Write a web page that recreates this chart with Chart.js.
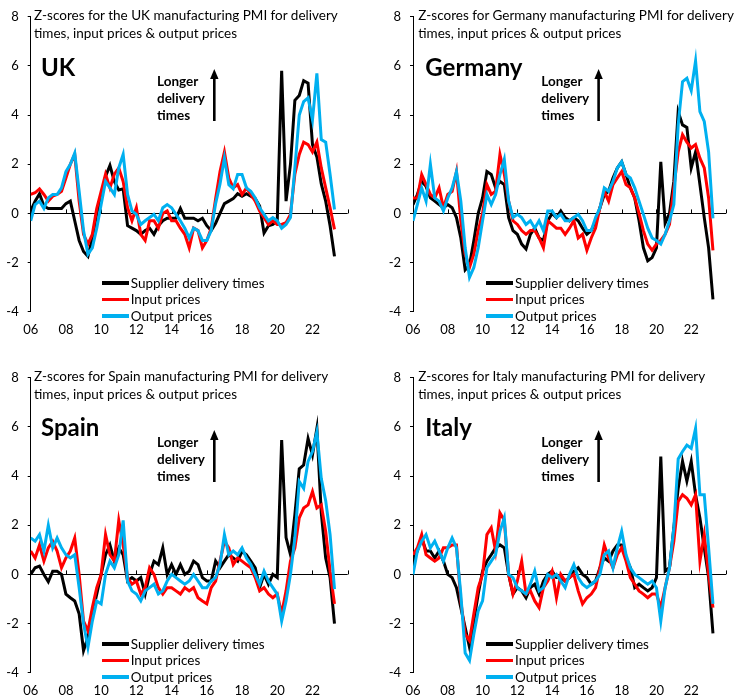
<!DOCTYPE html>
<html><head><meta charset="utf-8">
<script src="https://cdn.jsdelivr.net/npm/chart.js@4.4.0/dist/chart.umd.min.js"></script>
<style>
html,body{margin:0;padding:0;background:#fff;overflow:hidden}
#wrap{position:relative;width:736px;height:700px;overflow:hidden;font-family:Lato,'Open Sans',sans-serif;color:#000}
.panel{position:absolute;width:368px}
.panel canvas{position:absolute;left:0;top:0}
.title{position:absolute;font-size:13.5px;line-height:17.5px;white-space:nowrap}
.country{position:absolute;font-size:24px;font-weight:bold;line-height:28px;white-space:nowrap}
.note{position:absolute;font-size:13.5px;font-weight:bold;line-height:16.7px;white-space:nowrap}
.arrow{position:absolute;overflow:visible}
.legend{position:absolute;font-size:13.5px}
.legend .row{display:flex;align-items:center;height:16.5px;white-space:nowrap}
.legend .sw{width:27px;height:3.5px;margin-right:2px}
</style></head><body><div id="wrap"></div>
<script>
// Quarterly readings, Q1 2006 .. Q2 2023
const startYear = 2006;
const tickLabels = ['06','08','10','12','14','16','18','20','22'];
const seriesNames = ['Supplier delivery times','Input prices','Output prices'];
const seriesColors = ['#000000','#FF0000','#00B0F0'];

const ukSupplier = [0.1,0.5,0.8,0.3, 0.2,0.2,0.2,0.2, 0.4,0.5,-0.3,-1.1, -1.55,-1.75,-1.0,0.0, 0.6,1.5,1.95,1.3, 0.95,1.0,-0.5,-0.6, -0.7,-0.85,-0.7,-0.6, -0.85,-0.5,-0.3,-0.2, -0.2,-0.2,0.2,-0.2, -0.2,-0.2,-0.3,-0.2, -0.5,-0.7,-0.4,0.0, 0.4,0.5,0.6,0.8, 0.7,0.8,0.7,0.6, 0.3,-0.8,-0.5,-0.45, -0.3,5.8,0.5,2.0, 4.6,4.8,5.4,5.3, 2.8,2.3,1.2,0.5, -0.5,-1.75];
const ukInput = [0.77,0.84,1.0,0.77, 0.5,0.7,0.77,0.9, 1.44,2.0,2.4,0.5, -0.85,-1.25,-0.85,0.2, 0.9,1.6,1.04,1.6, 1.85,1.3,0.23,-0.3, 0.23,-0.85,-1.1,-0.3, -0.3,-0.6,0.0,0.1, -0.3,-0.3,-0.6,-0.85, -1.4,-0.6,-0.7,-1.4, -1.1,-0.6,0.6,1.7, 2.5,1.44,1.04,1.17, 0.77,1.04,0.77,0.5, 0.1,-0.17,-0.45,-0.3, -0.45,-0.45,-0.38,-0.04, 1.6,2.4,2.9,2.8, 2.5,2.9,1.85,1.04, 0.23,-0.65];
const ukOutput = [-0.3,0.36,0.5,0.2, 0.63,0.77,0.77,1.04, 1.7,2.0,2.45,0.9, -0.7,-1.66,-1.4,-0.6, 0.36,1.3,1.04,0.77, 1.85,2.4,0.77,0.1, -0.04,-0.45,-0.3,-0.17, -0.04,-0.3,0.23,0.36, 0.23,-0.04,-0.3,-0.6, -1.0,-0.6,-0.7,-1.1, -1.1,-0.7,0.4,1.2, 2.25,1.17,1.0,1.58, 1.58,1.04,0.9,0.63, 0.23,-0.04,-0.3,-0.17, -0.3,-0.6,-0.45,-0.17, 1.85,4.0,4.55,4.7, 3.8,5.7,3.0,2.9, 1.58,0.16];

const deSupplier = [0.36,0.77,1.3,1.1, 0.63,0.5,0.36,0.23, 0.36,0.23,-0.17,-1.0, -2.3,-2.1,-1.1,0.0, 0.63,1.7,1.58,1.04, 1.3,1.17,-0.17,-0.7, -0.85,-1.25,-1.45,-0.85, -0.6,-1.0,-1.1,-0.3, 0.0,-0.17,0.1,-0.17, -0.3,-0.17,-0.3,-0.6, -0.85,-0.7,-0.3,0.23, 0.77,0.9,1.44,1.85, 2.1,1.58,1.04,0.63, -0.3,-1.4,-1.93,-1.8, -1.4,2.1,-0.4,0.0, 1.3,4.14,3.6,3.5, 1.85,2.5,1.17,-0.17, -1.4,-3.5];
const deInput = [0.63,0.63,1.58,1.17, 0.77,0.63,1.04,0.23, 0.77,0.9,1.7,-0.3, -1.66,-2.2,-1.66,-0.7, 0.0,1.17,0.77,0.9, 2.4,1.6,0.5,-0.3, -0.45,-0.7,-0.85,-0.7, -0.7,-1.0,-1.4,-0.3, -0.45,-0.6,-0.6,-0.85, -0.6,-0.3,-1.0,-0.85, -1.5,-1.0,-0.6,0.23, 0.9,0.5,1.17,1.44, 1.7,1.17,1.04,0.63, 0.0,-0.7,-1.25,-1.5, -1.25,-1.1,-0.85,-0.45, 1.04,2.5,3.2,2.9, 2.66,2.8,2.25,1.85, 0.63,-1.5];
const deOutput = [-0.3,0.36,1.04,0.5, 2.0,0.63,0.5,0.1, 0.63,1.04,1.7,0.5, -1.4,-2.6,-2.2,-1.4, -0.3,0.77,0.36,0.77, 1.58,2.2,0.5,-0.17, -0.04,-0.17,-0.45,-0.3, -0.6,-0.3,-0.7,0.1, 0.1,-0.17,-0.04,-0.3, -0.3,-0.17,-0.04,-0.3, -0.7,-0.7,-0.17,0.23, 1.04,0.9,1.3,1.85, 2.1,1.58,1.44,1.04, 0.5,-0.04,-0.6,-1.0, -1.1,-1.25,-0.85,-0.3, 0.36,3.6,5.36,5.5, 5.0,6.2,4.14,3.74, 2.5,-0.2];

const esSupplier = [0.0,0.27,0.34,0.0, -0.3,0.13,0.13,0.0, -0.8,-0.95,-1.08,-1.6, -3.1,-2.56,-1.6,-0.8, 0.0,0.8,1.2,0.54, 1.08,0.8,-0.27,-0.13, -0.27,-0.13,-0.8,0.0, 0.54,0.4,1.08,0.0, 0.4,0.0,0.4,0.0, 0.13,0.54,0.4,-0.13, -0.27,-0.27,0.54,0.27, 0.54,0.8,0.67,0.54, 0.94,0.8,0.54,0.27, -0.54,0.0,-0.4,0.0, -0.13,5.47,1.5,0.8, 2.43,4.3,4.45,5.53, 4.86,5.94,2.5,0.67, -0.13,-2.0];
const esInput = [0.95,0.67,1.2,0.54, 1.08,1.35,0.95,0.27, 0.67,0.95,1.48,0.0, -1.9,-2.3,-1.35,-0.54, 0.0,1.62,0.8,0.54, 2.2,1.2,-0.13,-0.4, -0.27,-0.8,-0.54,0.27, 0.0,-0.54,-0.8,-0.54, -0.54,-0.67,-0.8,-0.54, -0.67,-0.54,-0.95,-1.08, -1.2,-0.54,-0.27,0.54, 1.35,1.08,0.4,0.67, 0.54,0.4,0.27,-0.13, -0.67,-0.54,-0.8,-0.95, -0.8,-1.6,-0.67,0.54, 1.08,2.3,2.7,2.83, 3.37,2.7,2.83,1.75, 0.13,-1.2];
const esOutput = [1.48,1.35,1.62,0.95, 2.0,1.08,1.48,1.08, 0.8,0.67,0.8,-0.54, -2.0,-2.97,-1.9,-1.08, -1.2,0.0,0.54,0.27, 0.8,2.2,-0.27,-0.67, -0.8,-1.08,-0.67,-0.54, -0.4,-0.8,-0.67,-0.27, 0.0,-0.13,-0.27,-0.4, -0.27,0.0,-0.27,-0.54, -0.54,-0.27,-0.13,0.4, 1.62,0.8,0.95,0.8, 1.08,0.67,0.4,0.0, -0.4,0.13,-0.27,-0.54, -0.8,-1.9,-1.08,0.0, 1.48,3.78,3.5,4.6, 5.0,5.8,3.9,3.0, 1.62,-0.6];

const itSupplier = [0.54,0.95,1.48,0.95, 0.95,0.67,0.95,0.54, 0.0,-0.13,-0.54,-1.35, -2.16,-2.97,-1.9,-0.8, 0.13,0.54,0.8,1.08, 1.2,1.08,0.0,-0.8, -0.54,-0.67,-0.95,-0.54, -0.4,-0.8,-0.27,0.0, 0.13,-0.13,-0.13,-0.27, -0.13,0.13,0.27,0.0, -0.13,-0.4,-0.27,0.27, 0.67,0.54,0.95,1.2, 1.2,0.67,0.27,-0.54, -0.4,-0.54,-0.67,-0.54, -0.13,4.8,0.13,0.27, 1.9,3.5,4.6,3.8, 4.6,3.24,2.3,1.08, -0.13,-2.4];
const itInput = [0.8,1.08,1.62,0.8, 0.67,0.54,0.67,1.08, 1.08,1.2,1.2,-1.08, -2.43,-2.7,-1.6,-0.54, 0.0,1.62,1.9,0.95, 2.5,2.2,0.0,-0.8, -0.27,0.54,-0.8,-0.67, -1.08,-1.35,-0.54,-0.27, 0.13,-0.95,0.0,-0.27, -0.13,0.0,-0.67,-1.2, -0.95,-0.8,-0.54,0.27, 1.2,0.67,0.27,0.8, 1.08,0.54,-0.13,-0.4, -0.67,-0.8,-0.95,-0.8, -0.8,-1.35,-0.54,0.27, 1.35,2.97,3.24,3.1, 2.83,3.24,0.54,1.62, 0.0,-1.35];
const itOutput = [0.0,0.95,1.35,1.62, 1.08,1.35,0.95,0.54, 1.08,1.48,1.08,-0.8, -3.2,-3.5,-2.43,-1.48, -1.08,0.27,0.54,0.8, 1.75,2.3,0.0,-0.13, -0.54,-0.67,-0.8,-0.4, 0.13,-0.67,-0.54,0.0, -0.13,0.0,-0.27,-0.54, 0.0,0.4,-0.13,-0.4, -0.54,-0.4,-0.27,0.0, 0.8,0.95,0.27,1.08, 1.75,0.8,0.27,0.0, -0.13,-0.27,-0.4,-0.27, -0.54,-1.9,-0.54,0.27, 1.9,4.7,5.0,5.26, 5.13,5.94,3.24,3.24, 1.08,-1.2];

const quarters = ukSupplier.map((_, i) => startYear + i / 4);

const panels = [
  {name:'UK', inTitle:'the UK', series:[ukSupplier, ukInput, ukOutput], left:0, top:0, h:345, plotL:30.7, plotR:347.7, dx:0},
  {name:'Germany', inTitle:'Germany', series:[deSupplier, deInput, deOutput], left:368, top:0, h:345, plotL:45, plotR:364.5, dx:16.3},
  {name:'Spain', inTitle:'Spain', series:[esSupplier, esInput, esOutput], left:0, top:361, h:339, plotL:30.7, plotR:347.7, dx:0},
  {name:'Italy', inTitle:'Italy', series:[itSupplier, itInput, itOutput], left:368, top:361, h:339, plotL:45, plotR:364.5, dx:16.3}
];

const FONT = {family:"Lato, 'Open Sans', sans-serif", size:13};
const PLOT_TOP = 15, PLOT_BOTTOM = 311.7;

const zeroTicks = {
  id:'zeroTicks',
  beforeDatasetsDraw(chart){
    const {ctx} = chart; const x = chart.scales.x, y = chart.scales.y;
    const y0 = y.getPixelForValue(0);
    ctx.save(); ctx.strokeStyle = '#000'; ctx.lineWidth = 1;
    x.ticks.forEach(t => {
      const px = Math.round(x.getPixelForValue(t.value)) + 0.5;
      ctx.beginPath(); ctx.moveTo(px, y0); ctx.lineTo(px, y0 - 4); ctx.stroke();
    });
    ctx.restore();
  }
};

const wrap = document.getElementById('wrap');
panels.forEach(p => {
  const div = document.createElement('div');
  div.className = 'panel';
  div.style.left = p.left + 'px'; div.style.top = p.top + 'px'; div.style.height = p.h + 'px';
  wrap.appendChild(div);
  const cv = document.createElement('canvas');
  cv.width = 368; cv.height = p.h; cv.style.width = '368px'; cv.style.height = p.h + 'px';
  div.appendChild(cv);

  const datasets = p.series.map((vals, k) => ({
    label: seriesNames[k],
    data: vals.map((v, i) => ({x: quarters[i], y: v})),
    borderColor: seriesColors[k],
    backgroundColor: seriesColors[k],
    borderWidth: 3,
    pointRadius: 0,
    tension: 0,
    order: 3 - k
  }));

  const chart = new Chart(cv, {
    type:'line',
    data:{datasets},
    plugins:[zeroTicks],
    options:{
      responsive:false, animation:false, devicePixelRatio:1,
      layout:{padding:{left:0, right:368 - p.plotR, top:PLOT_TOP, bottom:0}},
      plugins:{legend:{display:false}, tooltip:{enabled:false}},
      scales:{
        x:{type:'linear', min:2006, max:2024,
          ticks:{stepSize:2, autoSkip:false, maxRotation:0, minRotation:0, font:FONT, color:'#000', padding:10,
            callback:(v) => { const idx = (v - 2006) / 2; return tickLabels[idx] !== undefined ? tickLabels[idx] : ''; }},
          grid:{display:false, drawTicks:false}, border:{display:false},
          afterFit:(s) => { s.height = p.h - PLOT_BOTTOM; }
        },
        y:{min:-4, max:8,
          ticks:{stepSize:2, font:FONT, color:'#000', padding:9},
          grid:{color:(c) => (c.tick && c.tick.value === 0) ? '#000' : 'rgba(0,0,0,0)', lineWidth:1, tickColor:'#000', tickLength:3, drawTicks:true},
          border:{display:true, color:'#000', width:1},
          afterFit:(s) => { s.width = p.plotL; }
        }
      }
    }
  });

  const dx = p.dx;
  const title = document.createElement('div');
  title.className = 'title';
  title.style.left = (34 + dx) + 'px'; title.style.top = '7px';
  title.innerHTML = 'Z-scores for ' + p.inTitle + ' manufacturing PMI for delivery<br>times, input prices &amp; output prices';
  div.appendChild(title);

  const country = document.createElement('div');
  country.className = 'country';
  country.style.left = (41 + dx) + 'px'; country.style.top = (p.top ? 51.7 : 52.7) + 'px';
  country.textContent = p.name;
  div.appendChild(country);

  const note = document.createElement('div');
  note.className = 'note';
  note.style.left = (157 + dx) + 'px'; note.style.top = '73.3px';
  note.innerHTML = 'Longer<br>delivery<br>times';
  div.appendChild(note);

  const ax = 214.3 + dx;
  const svgNS = 'http://www.w3.org/2000/svg';
  const svg = document.createElementNS(svgNS, 'svg');
  svg.setAttribute('class','arrow');
  svg.setAttribute('width','368'); svg.setAttribute('height','140');
  svg.style.left = '0px'; svg.style.top = '0px';
  svg.innerHTML = '<line x1="' + ax + '" y1="121" x2="' + ax + '" y2="77" stroke="#000" stroke-width="2.6"/>' +
    '<polygon points="' + (ax - 4.2) + ',79 ' + (ax + 4.2) + ',79 ' + ax + ',69" fill="#000"/>';
  div.appendChild(svg);

  const leg = document.createElement('div');
  leg.className = 'legend';
  leg.style.left = (101.7 + dx) + 'px'; leg.style.top = '274.7px';
  chart.data.datasets.forEach(ds => {
    const row = document.createElement('div'); row.className = 'row';
    const sw = document.createElement('span'); sw.className = 'sw'; sw.style.background = ds.borderColor;
    const tx = document.createElement('span'); tx.textContent = ds.label;
    row.appendChild(sw); row.appendChild(tx); leg.appendChild(row);
  });
  div.appendChild(leg);
});
</script></body></html>
